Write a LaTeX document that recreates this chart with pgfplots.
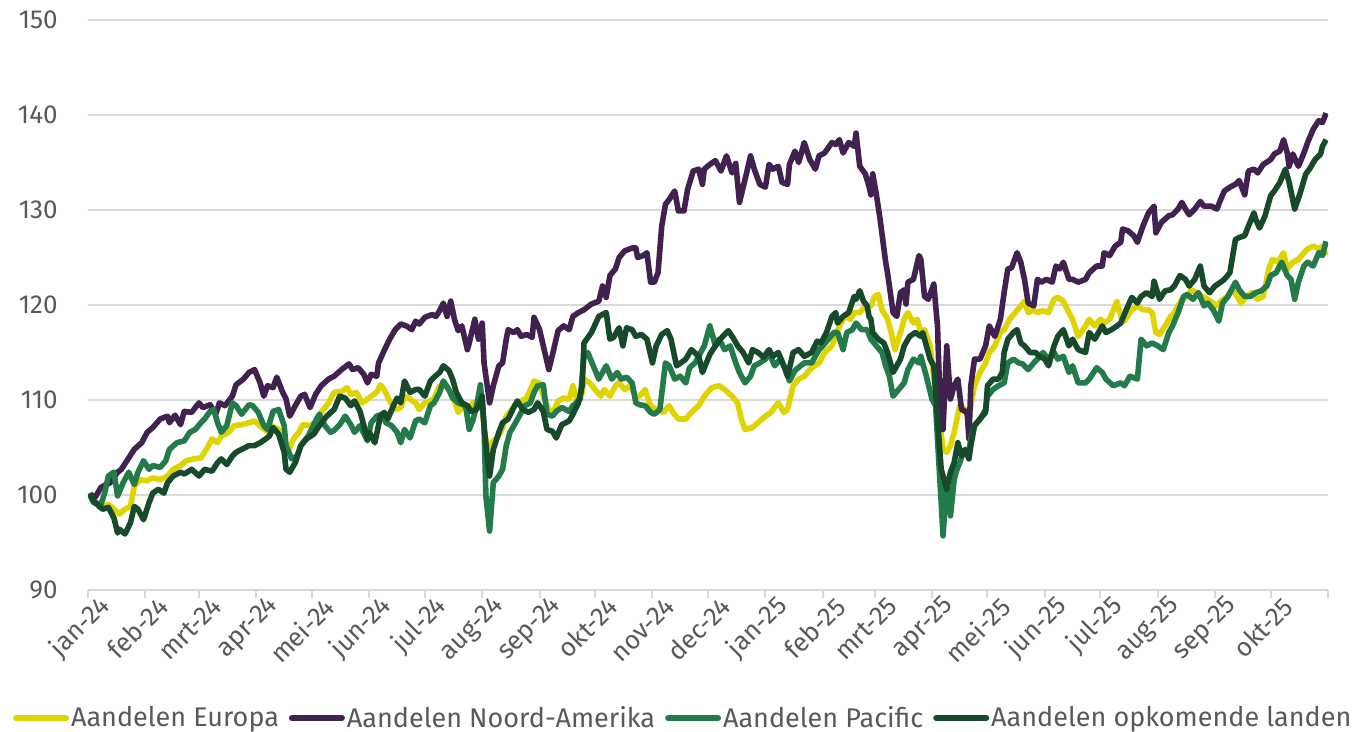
\documentclass[border=0pt]{standalone}
\usepackage{pgfplots}
\pgfplotsset{compat=1.18}
\usepackage{fontspec}
\setmainfont{Fira Sans}
\definecolor{txt}{HTML}{595959}
\definecolor{gridc}{HTML}{D9D9D9}
\definecolor{ceur}{HTML}{E0D400}
\definecolor{cna}{HTML}{40214F}
\definecolor{cpac}{HTML}{237A4B}
\definecolor{cem}{HTML}{164A2B}
\pgfplotsset{ser/.style={line width=2.8pt, line join=round, no markers}}
\begin{document}
\begin{tikzpicture}
\begin{axis}[
  scale only axis, width=620pt, height=285pt,
  at={(0,0)}, anchor=south west,
  xmin=0, xmax=670, ymin=90, ymax=150,
  axis lines*=left,
  x axis line style={draw=gridc, line width=1pt, -},
  y axis line style={draw=none},
  ytick={90,100,...,150},
  ymajorgrids, grid style={draw=gridc, line width=1pt},
  ytick style={draw=none},
  xtick={0,31,60,91,121,152,182,213,244,274,305,335,366,397,425,456,486,517,547,578,609,639,670},
  xticklabels={jan-24,feb-24,mrt-24,apr-24,mei-24,jun-24,jul-24,aug-24,sep-24,okt-24,nov-24,dec-24,jan-25,feb-25,mrt-25,apr-25,mei-25,jun-25,jul-25,aug-25,sep-25,okt-25,{}},
  xtick align=outside, major tick length=4pt,
  xtick style={draw=gridc, line width=1pt},
  /pgf/number format/assume math mode=true,
  yticklabel style={anchor=east, inner sep=0pt, xshift=-15pt, font=\fontsize{13}{15}\selectfont, text=txt},
  xticklabel style={xshift=9pt, yshift=-2pt, rotate=45, anchor=east, inner sep=0pt, font=\fontsize{13}{15}\selectfont, text=txt},
  legend columns=4,
  legend style={at={(0.48,-0.2246)}, anchor=center, draw=none, fill=none,
    font=\fontsize{13.5}{16}\selectfont, text=txt, inner xsep=0pt,
    nodes={inner xsep=1pt},
    /tikz/every even column/.append style={column sep=4pt},
    /tikz/every odd column/.append style={column sep=0pt}},
  legend image code/.code={\draw[#1, line width=3pt, line cap=round] (0pt,0pt) -- (25pt,0pt);},
]
\addplot[ser, ceur] coordinates {
(1,100)(4,99.2)(8,98.8)(11,99)(14,98.5)(17,98)(20,98.5)(23,98.8)(25,100.9)(28,101.6)
(32,101.5)(35,101.8)(39,101.6)(43,102)(46,102.7)(50,103.1)(53,103.6)(57,103.8)(61,103.9)(64,104.8)
(67,105.9)(70,105.5)(72,106.2)(76,106.6)(79,107.3)(83,107.4)(87,107.6)(90,107.8)(94,107.1)(97,106.7)
(99,107.3)(103,106.9)(106,105.9)(108,104.5)(111,105.9)(114,106.6)(116,107.4)(120,107.3)(124,107.8)(126,108.7)
(130,109.7)(133,110.8)(137,110.9)(140,111.3)(142,110.6)(145,110.8)(148,109.7)(151,110.1)(153,110.4)(156,110.8)
(158,111.6)(160,111.1)(163,109.9)(166,109)(169,109.2)(171,110.4)(174,110.1)(177,109.7)(179,109)(182,109.7)
(185,109.9)(187,110.2)(190,111.5)(193,111.5)(196,110.8)(198,109.9)(200,108.7)(203,109.4)(205,108.8)(208,109.7)
(211,109.4)(213,109.7)(214,106.9)(216,104.8)(218,105.5)(221,106)(223,106.6)(226,108.3)(229,109)(232,109.7)
(234,109.9)(237,110.2)(240,111.5)(241,112)(244,111.8)(246,110.4)(249,109)(251,108.5)(254,109.9)(257,110.2)
(260,110.1)(262,111.5)(264,110.1)(267,110.8)(268,112.2)(271,111.8)(274,111.1)(277,110.4)(279,111.1)(282,110.4)
(285,111.5)(287,111.8)(290,111.1)(293,111.5)(296,110.4)(298,110.4)(301,111.1)(304,109.4)(307,109)(311,108.7)
(314,109.4)(316,108.7)(319,108)(323,108)(326,108.7)(330,109.4)(333,110.4)(337,111.3)(341,111.5)(344,111.1)
(348,110.4)(351,109.7)(353,108)(355,106.9)(359,107.1)(362,107.6)(366,108.3)(369,108.7)(373,109.7)(376,108.7)
(378,109)(381,111.5)(384,112.2)(387,112.5)(391,113.4)(395,113.9)(398,115)(402,115.7)(404,116.7)(406,117.8)
(409,118.8)(412,118.5)(414,119.2)(417,119.2)(420,119.9)(423,119.9)(425,120.9)(427,121.1)(429,119.5)(432,118.5)
(434,117.1)(436,115.3)(439,117.1)(441,118.5)(443,119.2)(446,118.1)(448,118.5)(450,117.1)(452,117.4)(455,115.7)
(458,110.8)(460,108)(462,104.8)(464,104.5)(466,105.2)(468,106.6)(471,109.4)(474,109)(476,108)(477,109.4)
(479,111.5)(482,112.9)(485,113.9)(487,115)(490,115.7)(493,117.1)(495,117.4)(498,118.5)(501,119.2)(504,119.9)
(506,120.4)(508,119.2)(511,119.5)(513,119.2)(516,119.4)(519,119.2)(522,120.6)(524,120.8)(527,120.4)(530,119.2)
(532,118.5)(535,116.7)(539,117.8)(541,118.5)(544,117.8)(547,118.5)(549,118.1)(552,118.5)(556,120.4)(558,118.8)
(560,118.3)(564,119.5)(567,119.9)(570,119.5)(573,119.5)(575,119.2)(577,117.1)(579,116.9)(582,117.8)(585,118.8)
(587,119.2)(591,120.6)(594,120.9)(596,121.6)(599,121.3)(602,120.9)(605,120.6)(608,120.2)(610,119.9)(612,120.4)
(615,120.8)(618,121.6)(621,120.9)(623,120.2)(626,120.9)(629,121.3)(632,120.6)(635,120.9)(638,123.8)(640,124.8)
(643,124.5)(646,125.5)(648,123.8)(651,124.5)(654,124.8)(657,125.5)(659,125.9)(662,126.2)(665,125.9)(667,126.2)
(669,125.2)
};
\addlegendentry{Aandelen Europa}
\addplot[ser, cna] coordinates {
(1,100)(4,99.8)(7,100.8)(12,101.3)(16,102.4)(18,102.7)(22,103.9)(25,104.8)(29,105.5)(32,106.6)
(35,107.1)(39,108)(43,108.3)(44,107.6)(47,108.4)(50,107.4)(52,108.8)(56,108.7)(60,109.7)(62,109.2)
(66,109.5)(69,108.5)(71,109.7)(74,109.4)(78,110.4)(80,111.6)(84,112.2)(87,112.9)(90,113.2)(93,111.8)
(95,110.4)(97,111.5)(100,111.3)(102,112.4)(105,110.9)(107,110.1)(109,108.3)(112,109.4)(115,110.4)(117,110.6)
(120,109.2)(123,110.6)(126,111.5)(130,112.2)(133,112.5)(137,113.2)(141,113.8)(143,113.2)(146,113.4)(149,112.7)
(151,111.8)(153,112.7)(156,112.5)(157,113.9)(160,115.2)(163,116.4)(166,117.4)(169,118)(172,117.8)(175,117.4)
(177,118.3)(179,118)(182,118.7)(186,119)(188,118.8)(190,119.4)(192,120.2)(194,118.8)(196,120.4)(198,118.5)
(200,117.3)(202,117.8)(205,115.3)(206,116)(209,118.5)(211,116.4)(213,118.1)(214,113.9)(217,109.7)(219,111.5)
(222,113.6)(224,113.9)(226,116.4)(227,117.4)(230,117.1)(232,117.4)(234,116.7)(237,116.9)(240,116.6)(241,118.7)
(244,117.4)(246,115.7)(249,113.2)(251,114.8)(254,117.3)(257,117.8)(260,117.4)(262,118.8)(265,119.2)(268,119.5)
(272,120.1)(276,120.4)(278,122)(280,120.8)(282,123.1)(285,123.8)(287,125)(290,125.7)(294,126)(296,126)
(297,125)(300,125.2)(302,125.5)(304,122.4)(306,122.4)(308,123.4)(310,128.3)(312,130.6)(314,131.1)(317,132)
(319,129.9)(322,129.9)(324,132.2)(327,134.1)(330,134.3)(332,132.7)(333,134.3)(336,134.8)(339,135.2)(342,134.1)
(345,135.7)(348,133.9)(350,134.9)(352,130.8)(355,133.2)(358,135.7)(360,134.3)(363,132.7)(366,132.4)(368,134.8)
(370,134.3)(373,134.6)(375,132.9)(378,132.7)(379,134.8)(382,136.2)(384,135)(387,137.1)(390,135.3)(393,134.3)
(395,135.7)(398,136)(402,137.1)(404,136.9)(406,137.4)(408,136)(411,137.1)(414,136.7)(415,138.1)(417,134.6)
(420,133.8)(422,132.5)(423,131.6)(424,133.8)(426,131.6)(428,129)(431,124.5)(432,123.4)(435,119.2)(437,118.8)
(439,121.3)(441,121.6)(442,120.1)(443,122.4)(446,122.7)(449,125.2)(450,124.8)(452,120.9)(454,120.6)(457,122.2)
(459,117.8)(460,111.8)(462,106.9)(464,115.7)(466,110.1)(468,111.5)(470,112.2)(472,109)(475,108.7)(476,105.9)
(477,111.5)(479,114.3)(482,114.3)(485,115.7)(487,117.8)(490,116.7)(493,118.5)(495,121.3)(497,123.8)(499,123.9)
(502,125.5)(504,124.5)(506,122.7)(508,120.2)(511,119.9)(513,122.7)(515,122.4)(518,122.7)(521,122.4)(523,124.1)
(525,123.8)(527,124.5)(530,122.7)(532,122.7)(535,122.4)(539,122.7)(541,123.4)(545,124.1)(548,124.1)(549,125.5)
(552,125.2)(555,126.2)(558,126.6)(559,128)(562,127.8)(565,127.3)(567,126.6)(570,128.3)(573,129.7)(576,130.4)
(577,127.6)(580,128.7)(584,129.4)(586,129.5)(589,130.1)(591,130.8)(593,130.1)(595,129.5)(598,130.1)(601,130.9)
(603,130.4)(607,130.4)(610,130.1)(612,131.1)(614,132)(617,132.4)(620,132.7)(622,133.1)(625,131.6)(627,134.1)
(630,134.3)(632,133.9)(635,134.8)(639,135.3)(641,135.9)(644,136.2)(646,137.4)(648,136)(649,134.6)(651,135.9)
(654,134.6)(657,136)(659,137.1)(662,138.5)(665,139.4)(667,139.2)(669,140.2)
};
\addlegendentry{Aandelen Noord-Amerika}
\addplot[ser, cpac] coordinates {
(1,100)(3,99.2)(7,99)(9,100.2)(11,102)(14,102.4)(16,99.9)(19,101.3)(22,102.4)(25,101.1)
(27,102.4)(30,103.6)(33,102.7)(35,103.1)(39,102.9)(42,103.6)(44,104.8)(48,105.5)(52,105.7)(55,106.6)
(58,106.9)(61,107.6)(63,108)(66,108.8)(68,109)(70,107.6)(72,106.6)(75,107.3)(78,109.7)(80,109.4)
(83,108.5)(87,109.5)(89,109.4)(92,108.7)(95,107.3)(97,106.9)(100,108.8)(103,109)(106,107.3)(107,105.2)
(110,103.8)(113,104.1)(115,105.2)(119,106.2)(123,107.8)(125,108.5)(128,107.3)(131,106.6)(133,106.8)(136,107.4)
(139,108.3)(142,107.4)(144,106.6)(147,107.3)(151,105.7)(153,107.6)(156,108.3)(159,108.5)(161,107.6)(164,107.3)
(167,106.6)(169,105.5)(171,106.9)(174,106)(177,107.8)(179,108)(182,107.6)(185,109.4)(187,109.7)(190,110.8)
(192,112)(195,111.1)(197,110.2)(200,109.7)(204,109.4)(206,106.9)(208,107.9)(210,109.4)(212,111.6)(214,107.3)
(215,99.9)(217,96.2)(219,101.3)(222,102)(224,102.7)(226,105.2)(228,106.6)(231,107.6)(233,108.3)(236,109.4)
(239,109.7)(241,110.8)(243,111.5)(246,111.6)(248,108.5)(251,108.3)(253,108.8)(256,109.2)(260,108.8)(262,109.4)
(266,110.1)(268,114.6)(270,115)(273,113.6)(276,112.2)(278,112.9)(280,113.6)(283,112.2)(286,112.9)(288,112.2)
(291,112.4)(294,111.8)(296,109.7)(298,109.5)(301,109.4)(304,108.7)(306,108.5)(309,109)(312,113.9)(314,113.6)
(317,112.2)(320,112.5)(323,111.8)(325,113.4)(328,113.9)(331,115)(333,115.7)(336,117.8)(339,115.7)(341,116.4)
(344,115.3)(347,115.7)(350,113.9)(352,112.9)(355,111.8)(358,112.5)(360,113.6)(363,113.9)(366,114.3)(368,115)
(371,113.6)(374,114.3)(377,113.2)(379,112)(382,113.1)(385,113.6)(387,113.9)(391,113.9)(395,115.3)(397,115.7)
(400,116.4)(403,117.1)(405,117.1)(408,115.3)(410,117.1)(413,117.4)(415,118.1)(418,117.4)(421,117.4)(423,116.4)
(426,115.7)(429,115)(431,113.6)(433,112.5)(435,110.4)(438,111.1)(441,111.8)(443,113.2)(446,114.3)(449,113.9)
(450,114.6)(453,112.5)(456,110.1)(458,109.4)(459,105.9)(461,99.2)(462,95.7)(464,101.6)(466,97.8)(468,101.6)
(469,102.4)(471,103.4)(473,104.5)(476,104.5)(477,105.9)(479,107.3)(482,108)(485,109)(486,110.4)(489,111.1)
(492,111.5)(495,111.8)(497,113.9)(500,114.3)(503,113.9)(505,113.8)(508,113.2)(511,113.9)(513,114.3)(516,115)
(519,114.3)(522,115)(524,114.3)(527,114.6)(530,112.9)(532,113.6)(535,111.8)(539,111.8)(541,112.2)(545,113.4)
(548,112.9)(550,112.2)(554,111.5)(558,111.8)(560,111.5)(563,112.5)(567,112.2)(569,116.4)(572,115.7)(575,116)
(578,115.7)(581,115.3)(584,117.1)(586,117.8)(589,119.2)(592,120.9)(594,121.1)(597,120.6)(600,121.3)(603,119.9)
(605,120.2)(608,119.5)(611,118.3)(613,120.2)(616,120.9)(620,122.4)(622,121.6)(625,120.9)(628,120.9)(631,121.3)
(634,121.5)(637,122)(639,123.1)(642,123.4)(645,124.5)(648,123.1)(650,122.7)(652,120.6)(654,122.4)(657,124.1)
(659,124.5)(662,124.1)(665,125.5)(667,125.2)(669,126.7)
};
\addlegendentry{Aandelen Pacific}
\addplot[ser, cem] coordinates {
(1,100.2)(3,99.4)(6,98.8)(8,98.5)(11,98.7)(14,97.6)(16,96)(17,96.4)(20,95.9)(23,97.1)
(25,98.8)(27,98.5)(30,97.4)(33,99.2)(35,100.2)(38,100.6)(41,100.2)(43,101.3)(46,102)(50,102.4)
(52,102.2)(56,102.7)(60,102)(63,102.7)(67,102.5)(70,103.4)(72,103.8)(75,103.2)(78,104.1)(80,104.5)
(83,104.8)(87,105.2)(90,105.2)(93,105.5)(96,105.9)(98,106.2)(100,107.1)(103,106.4)(106,104.5)(107,102.7)
(109,102.4)(112,103.4)(115,105.2)(118,105.9)(122,106.4)(125,107.3)(129,108.3)(133,109)(136,110.4)(139,110.2)
(142,109.4)(144,109.9)(147,108.8)(151,105.9)(152,106.6)(155,105.5)(158,108.3)(160,108.7)(162,108)(165,109.4)
(167,110.2)(169,109.7)(171,112)(174,110.8)(177,111.1)(179,111.1)(182,110.4)(185,112)(187,112.4)(190,112.9)
(192,113.6)(195,113.1)(197,112.2)(199,110.8)(202,109.7)(205,109.4)(207,108.8)(210,109)(213,110.4)(214,107.3)
(216,103.4)(217,102)(219,104.8)(222,106.6)(224,107.6)(227,108)(230,109.2)(232,109.9)(235,109)(238,108.7)
(241,109)(243,109.7)(246,108.8)(248,106.9)(251,106.7)(253,106)(256,107.4)(260,107.8)(262,108.5)(265,109.7)
(267,111.5)(268,116)(272,117.1)(276,118.8)(278,119)(280,119.2)(282,116.4)(284,116.6)(287,117.6)(289,115.7)
(291,117.6)(294,117.4)(296,116.7)(299,116.9)(302,116.4)(305,113.9)(307,115.7)(310,116.9)(313,117.3)(315,116.4)
(318,113.6)(321,114)(323,114.3)(326,115.3)(330,114.6)(332,112.9)(336,114.8)(340,116)(343,116.7)(346,117.3)
(349,116.4)(351,115.7)(354,115)(357,113.9)(359,115.3)(362,115)(365,114.5)(368,115.3)(370,114.6)(373,115)
(376,113.6)(378,112.5)(381,115)(384,115.3)(387,114.6)(391,115)(394,116.2)(396,116)(399,117.1)(402,118.8)
(404,119.2)(405,118.1)(408,118.8)(411,119.2)(414,120.9)(415,120.6)(417,121.5)(419,120.4)(421,119.9)(422,118.8)
(423,118.5)(424,117.1)(427,116.4)(430,116)(432,115)(435,112.9)(437,113.6)(439,114.3)(441,115.7)(444,116.7)
(447,117.1)(450,116.7)(451,117.1)(453,115.7)(455,114.3)(457,113.6)(459,108)(461,102.7)(464,100.6)(466,102.4)
(468,103.4)(470,105.5)(472,104.1)(474,104.8)(476,103.8)(477,105.2)(479,107.3)(482,108)(485,108.7)(486,111.5)
(489,112.2)(492,112.2)(494,112.9)(495,115)(497,116.4)(500,117.1)(502,117.4)(504,116)(506,115.7)(509,115)
(512,115)(514,114.6)(517,114.3)(519,113.6)(522,115.7)(524,116.7)(527,117.4)(530,115.7)(532,116.4)(535,115.3)
(539,115)(541,117.1)(544,116.4)(548,117.8)(550,117.1)(553,117.4)(556,117.8)(558,118.1)(561,119.5)(564,120.8)
(567,120.2)(569,120.9)(572,121.3)(575,120.9)(576,122.5)(579,120.6)(582,121.5)(585,121.6)(587,122)(590,123.1)
(593,122.7)(595,122)(598,122.7)(601,124.1)(603,122)(606,121.3)(609,122)(612,122.4)(614,122.7)(617,123.4)
(620,126.9)(622,127.1)(625,127.3)(627,128.3)(630,129.7)(631,129)(633,128.1)(636,129.4)(639,131.5)(641,132)
(644,132.9)(647,134.3)(649,132.9)(652,130.1)(655,131.8)(658,133.8)(660,134.3)(663,135.3)(666,135.9)(667,136.7)
(669,137.4)
};
\addlegendentry{Aandelen opkomende landen}
\end{axis}
\pgfresetboundingbox
\path[use as bounding box] (-44pt,-71pt) rectangle (634pt,295pt);
\end{tikzpicture}
\end{document}
